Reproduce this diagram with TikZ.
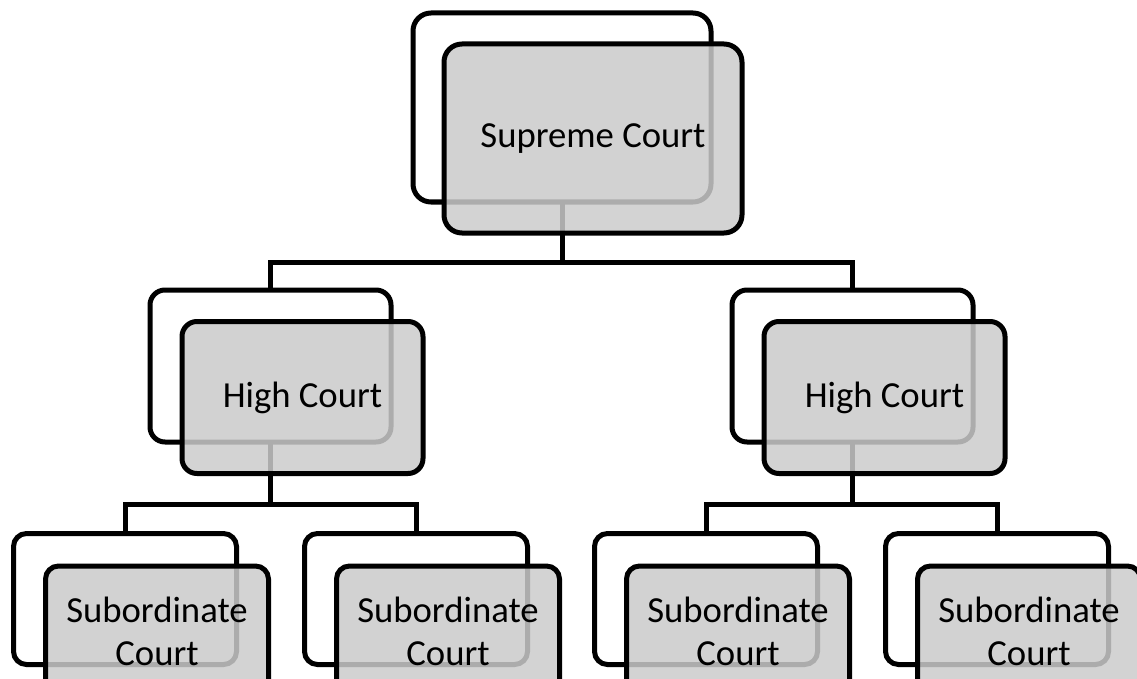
\documentclass[tikz,border=0pt]{standalone}
\usepackage{fontspec}
\setmainfont{Carlito}
\usetikzlibrary{backgrounds}
\definecolor{frontgray}{RGB}{203,203,203}
\begin{document}
\begin{tikzpicture}[x=1pt,y=-1pt,
  box/.style={draw=black, line width=5pt, inner sep=0pt, outer sep=0pt},
  backbox/.style={box, fill=white},
  frontbox/.style={box, fill=frontgray, fill opacity=0.85, text opacity=1, draw opacity=1,
     font=\fontsize{36.7}{43}\selectfont, align=center, text=black},
  lvlA/.style={minimum width=298pt, minimum height=189pt, rounded corners=18pt},
  lvlB/.style={minimum width=241pt, minimum height=152pt, rounded corners=15pt},
  lvlC/.style={minimum width=223pt, minimum height=131pt, rounded corners=13pt},
  conn/.style={draw=black, line width=5pt}]
\useasboundingbox (0,0) rectangle (1137,679);
\clip (0,0) rectangle (1137,679);

% back boxes
\node[backbox, lvlA] (sb) at (562,107.5) {};
\node[backbox, lvlB] (hlb) at (270.5,366) {};
\node[backbox, lvlB] (hrb) at (852.5,366) {};
\node[backbox, lvlC] (s1b) at (125,599) {};
\node[backbox, lvlC] (s2b) at (416,599) {};
\node[backbox, lvlC] (s3b) at (706,599) {};
\node[backbox, lvlC] (s4b) at (997,599) {};

% front boxes
\node[frontbox, lvlA] (sf) at (593,138.5) {Supreme Court};
\node[frontbox, lvlB] (hlf) at (302.5,397.5) {High Court};
\node[frontbox, lvlB] (hrf) at (884.5,397.5) {High Court};
\node[frontbox, lvlC] (s1f) at (157,631.5) {Subordinate\\Court};
\node[frontbox, lvlC] (s2f) at (448,631.5) {Subordinate\\Court};
\node[frontbox, lvlC] (s3f) at (738,631.5) {Subordinate\\Court};
\node[frontbox, lvlC] (s4f) at (1029,631.5) {Subordinate\\Court};

% connectors
\coordinate (bus1) at (562,262);
\coordinate (bus2) at (270.5,504);
\coordinate (bus3) at (852.5,504);
\begin{scope}[on background layer]
\draw[conn] (sb.south) -- (bus1);
\draw[conn] (hlb.north) |- (bus1) -| (hrb.north);
\draw[conn] (hlb.south) -- (bus2);
\draw[conn] (s1b.north) |- (bus2) -| (s2b.north);
\draw[conn] (hrb.south) -- (bus3);
\draw[conn] (s3b.north) |- (bus3) -| (s4b.north);
\end{scope}
\end{tikzpicture}
\end{document}
